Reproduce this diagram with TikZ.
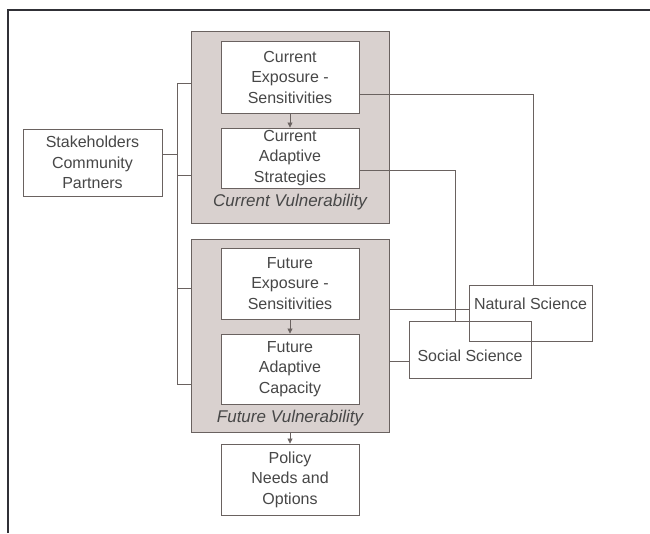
\documentclass[tikz,border=0pt]{standalone}
\usepackage{fontspec}
\setmainfont{Liberation Sans}
\usetikzlibrary{arrows.meta,positioning,calc}
\definecolor{ink}{HTML}{474747}
\definecolor{edge}{HTML}{6A6260}
\definecolor{panelfill}{HTML}{D9D1CF}
\definecolor{frame}{HTML}{303036}
\tikzset{
  panel/.style={draw=edge, fill=panelfill, line width=0.9pt, minimum width=198pt, inner sep=0pt},
  cell/.style={draw=edge, fill=white, line width=0.9pt, text=ink, align=center, minimum width=138pt, inner sep=0pt},
  scibox/.style={draw=edge, line width=0.9pt, text=ink, inner sep=0pt},
  paneltag/.style={text=ink, font=\fontsize{17}{20}\selectfont\itshape},
  link/.style={draw=edge, line width=0.8pt},
  flow/.style={-{Triangle[length=5pt,width=5pt]}, draw=edge, line width=0.8pt}
}

\begin{document}
\begin{tikzpicture}[x=1pt, y=-1pt, font=\fontsize{16}{20.5}\selectfont]
  \useasboundingbox (0,0) rectangle (650,533);
  % Outer frame (only top and left show)
  \draw[frame, line width=2.2pt] (8,533) -- (8,10) -- (650,10);

  % Grey panels
  \node[panel, minimum height=192pt] (cvul) at (290,127) {};
  \node[panel, minimum height=193pt] (fvul) at (290,335.5) {};
  \node[paneltag] (cvultag) at (290,202) {Current Vulnerability};
  \node[paneltag] (fvultag) at (290,418) {Future Vulnerability};

  % Boxes inside the panels
  \node[cell, minimum height=72pt] (cexp) at (290,77) {Current\\Exposure -\\Sensitivities};
  \node[cell, minimum height=60pt] (cadapt) at (290,158) {Current\\Adaptive\\Strategies};
  \node[cell, minimum height=71pt] (fexp) at (290,283.5) {Future\\Exposure -\\Sensitivities};
  \node[cell, minimum height=70pt] (fadapt) at (290,369) {Future\\Adaptive\\Capacity};
  \node[cell, minimum height=71pt] (policy) at (290,479.5) {Policy\\Needs and\\Options};

  \node[cell, minimum width=139pt, minimum height=67pt] (stake) at (92.5,162.5) {Stakeholders\\Community\\Partners};

  % Science boxes (not filled, they overlap)
  \node[scibox, minimum width=123pt, minimum height=56pt, text depth=18pt] (natsci) at (530.5,313) {Natural Science};
  \node[scibox, minimum width=122pt, minimum height=57pt, text height=24.5pt, text depth=0pt] (socsci) at (470,349.5) {Social Science};

  % Stakeholder bus
  \coordinate (b1) at (177,83);
  \coordinate (b2) at (177,175);
  \coordinate (b3) at (177,288);
  \coordinate (b4) at (177,384);
  \draw[link] (b1) -- (b4);
  \foreach \b in {b1,b2} \draw[link] (\b) -- (\b -| cvul.west);
  \foreach \b in {b3,b4} \draw[link] (\b) -- (\b -| fvul.west);
  \draw[link] ([yshift=8.5pt]stake.east) -- ([yshift=8.5pt]stake.east -| b1);

  % Links to the sciences
  \draw[link] ([yshift=-17pt]cexp.east) -| ([xshift=2.5pt]natsci.north);
  \draw[link] ([yshift=-12pt]cadapt.east) -| ([xshift=-15pt]socsci.north);
  \draw[link] ([yshift=26.5pt]fvul.east) coordinate (fn) -- (fn -| natsci.west);
  \draw[link] ([yshift=-25.5pt]fvul.east) coordinate (fs) -- (fs -| socsci.west);

  % Arrows
  \draw[flow] (cexp) -- (cadapt);
  \draw[flow] (fexp) -- (fadapt);
  \draw[flow] (fvul) -- (policy);
\end{tikzpicture}
\end{document}
